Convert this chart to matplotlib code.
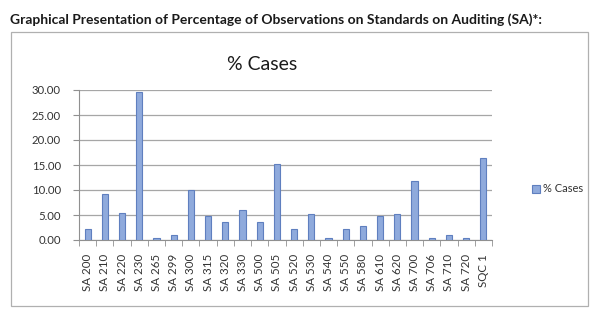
import matplotlib.pyplot as plt
import numpy as np
from matplotlib.patches import Rectangle

plt.rcParams['font.family'] = ['Lato', 'DejaVu Sans']

# standards on the x axis and their % of cases
standards = ['SA 200', 'SA 210', 'SA 220', 'SA 230', 'SA 265', 'SA 299',
             'SA 300', 'SA 315', 'SA 320', 'SA 330', 'SA 500', 'SA 505',
             'SA 520', 'SA 530', 'SA 540', 'SA 550', 'SA 580', 'SA 610',
             'SA 620', 'SA 700', 'SA 706', 'SA 710', 'SA 720', 'SQC 1']
pct_cases = [2.3, 9.3, 5.5, 29.7, 0.5, 1.1,
             10.0, 4.9, 3.7, 6.1, 3.7, 15.3,
             2.2, 5.3, 0.4, 2.2, 2.9, 4.8,
             5.3, 11.9, 0.4, 1.0, 0.4, 16.5]
y_ticks = [0, 5, 10, 15, 20, 25, 30]

W, H = 600, 324
fig = plt.figure(figsize=(6, 3.24), dpi=100)

# outer chart frame
fig.patches.append(Rectangle((11 / W, 1 - 306 / H), 577 / W, 274 / H,
                             transform=fig.transFigure, fill=False,
                             edgecolor='#b0b0b0', linewidth=0.9))

fig.text(10 / W, 1 - 20 / H,
         'Graphical Presentation of Percentage of Observations on Standards on Auditing (SA)*:',
         fontsize=10, fontweight='bold', color='#1a1a1a', va='center')
fig.text(262 / W, 1 - 64 / H, '% Cases', fontsize=14, color='#1a1a1a',
         ha='center', va='center')

ax = fig.add_axes([79 / W, 1 - 240 / H, 413 / W, 150 / H])
x = np.arange(len(standards))
ax.bar(x, pct_cases, width=0.36, color='#8faadc', edgecolor='#5f7fbf',
       linewidth=0.8, zorder=3, label='% Cases')

ax.set_xlim(-0.5, len(standards) - 0.5)
ax.set_ylim(0, 30)
ax.set_yticks(y_ticks)
ax.set_yticklabels(['%.2f' % v for v in y_ticks])
ax.yaxis.grid(True, color='#a6a6a6', linewidth=0.9, zorder=0)

ax.set_xticks(x)
ax.set_xticklabels(standards, rotation=90)
ax.set_xticks(np.arange(len(standards) + 1) - 0.5, minor=True)
ax.tick_params(axis='x', which='major', length=0, pad=10, labelsize=8.3,
               labelcolor='#333333')
ax.tick_params(axis='x', which='minor', length=4, color='#909090')
ax.tick_params(axis='y', length=4, color='#909090', labelsize=8.2,
               labelcolor='#333333', pad=9)

for side in ['top', 'right']:
    ax.spines[side].set_visible(False)
ax.spines['left'].set_color('#909090')
ax.spines['bottom'].set_color('#909090')

fig.legend(loc='center left', bbox_to_anchor=(522 / W, 1 - 189 / H),
           frameon=False, fontsize=8, handlelength=0.7, handleheight=0.7,
           handletextpad=0.3, labelcolor='#333333')

fig.savefig('out.png', dpi=100)
